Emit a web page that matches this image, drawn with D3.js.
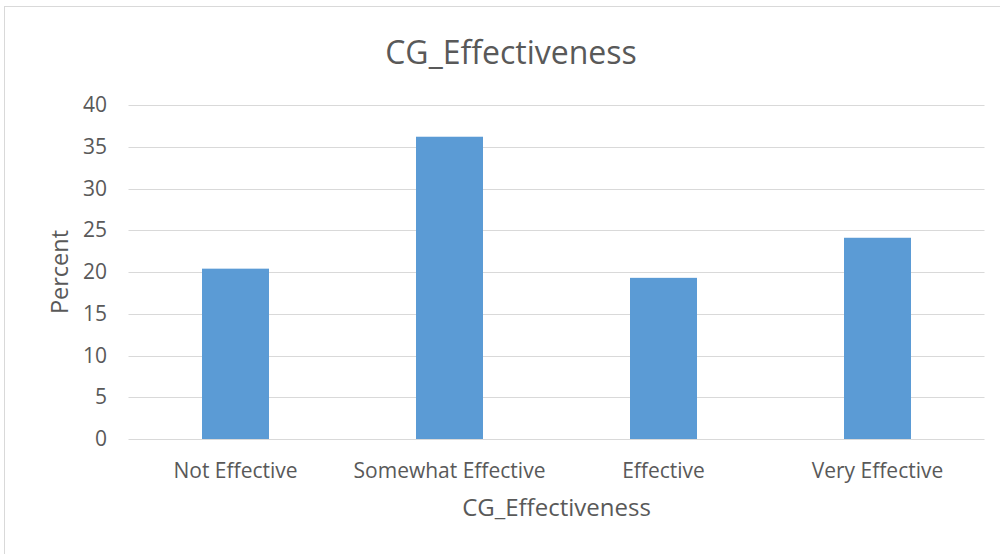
<!DOCTYPE html>
<html>
<head>
<meta charset="utf-8">
<script src="https://cdn.jsdelivr.net/npm/d3@7"></script>
<style>
  html, body { margin: 0; padding: 0; background: #fff; }
  svg { display: block; font-family: "Open Sans", "Noto Sans", sans-serif; }
</style>
</head>
<body>
<svg id="chart" width="1000" height="554"></svg>
<script>
// Share of responses per effectiveness rating (percent)
const categories = ["Not Effective", "Somewhat Effective", "Effective", "Very Effective"];
const percentValues = [20.4, 36.2, 19.3, 24.1];
const yTicks = [0, 5, 10, 15, 20, 25, 30, 35, 40];

const chartTitle = "CG_Effectiveness";
const xTitle = "CG_Effectiveness";
const yTitle = "Percent";

const svg = d3.select("#chart");
const W = 1000, H = 554;
const plot = { left: 128.5, right: 984.5, top: 105, bottom: 439 };
const textColor = "#595959";

// Outer chart frame
svg.append("rect")
  .attr("x", 4.5).attr("y", 6.5)
  .attr("width", W + 10).attr("height", H + 10)
  .attr("fill", "#fff")
  .attr("stroke", "#d9d9d9").attr("stroke-width", 1);

const x = d3.scaleBand()
  .domain(categories)
  .range([plot.left, plot.right])
  .paddingInner(0.687)
  .paddingOuter(0.3435);

const y = d3.scaleLinear()
  .domain([0, 40])
  .range([plot.bottom, plot.top]);

// Horizontal gridlines
svg.append("g")
  .selectAll("line")
  .data(yTicks)
  .join("line")
  .attr("x1", plot.left).attr("x2", plot.right)
  .attr("y1", d => Math.round(y(d)) + 0.5)
  .attr("y2", d => Math.round(y(d)) + 0.5)
  .attr("stroke", "#d9d9d9")
  .attr("stroke-width", 1);

// Bars
svg.append("g")
  .selectAll("rect")
  .data(percentValues)
  .join("rect")
  .attr("x", (d, i) => x(categories[i]))
  .attr("width", x.bandwidth())
  .attr("y", d => y(d))
  .attr("height", d => y(0) - y(d))
  .attr("fill", "#5b9bd5");

// Y axis labels
const yAxis = d3.axisLeft(y).tickValues(yTicks).tickSize(0).tickPadding(0);
const gy = svg.append("g")
  .attr("transform", `translate(107,0)`)
  .call(yAxis);
gy.select(".domain").remove();
gy.selectAll("text")
  .attr("fill", textColor)
  .attr("font-size", 21)
  .attr("font-family", "'Open Sans', sans-serif");

// X axis labels
const xAxis = d3.axisBottom(x).tickSize(0).tickPadding(0);
const gx = svg.append("g")
  .attr("transform", `translate(0,${plot.bottom})`)
  .call(xAxis);
gx.select(".domain").remove();
gx.selectAll("text")
  .attr("dy", null)
  .attr("y", 39)
  .attr("fill", textColor)
  .attr("font-size", 21)
  .attr("font-family", "'Open Sans', sans-serif");

// Titles
svg.append("text")
  .attr("x", 511).attr("y", 64)
  .attr("text-anchor", "middle")
  .attr("fill", textColor)
  .attr("font-size", 32)
  .text(chartTitle);

svg.append("text")
  .attr("x", 556.5).attr("y", 516)
  .attr("text-anchor", "middle")
  .attr("fill", textColor)
  .attr("font-size", 24)
  .text(xTitle);

svg.append("text")
  .attr("transform", `translate(68,272) rotate(-90)`)
  .attr("text-anchor", "middle")
  .attr("fill", textColor)
  .attr("font-size", 23.5)
  .text(yTitle);
</script>
</body>
</html>
